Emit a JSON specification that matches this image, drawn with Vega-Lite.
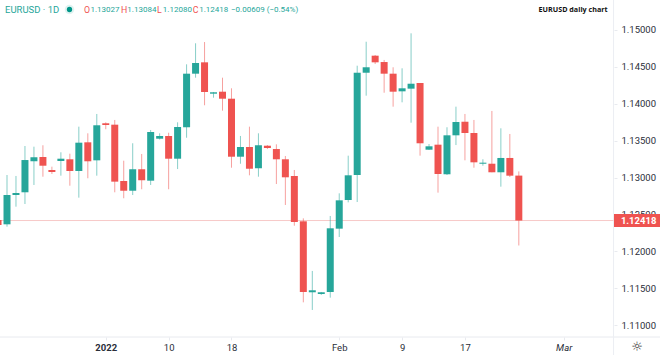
{"$schema":"https://vega.github.io/schema/vega-lite/v6.json","width":614,"height":337,"padding":{"left":0,"top":0,"right":46,"bottom":18},"autosize":"none","background":"white","config":{"view":{"stroke":null},"font":"Roboto"},
"datasets":{"candles":[
{"k":-1,"o":1.12426,"h":1.12426,"l":1.12358,"c":1.12358},
{"k":0,"o":1.12367,"h":1.13035,"l":1.12335,"c":1.12764},
{"k":1,"o":1.12764,"h":1.13022,"l":1.12606,"c":1.12791},
{"k":2,"o":1.12801,"h":1.13428,"l":1.12642,"c":1.13238},
{"k":3,"o":1.13221,"h":1.13419,"l":1.129,"c":1.13275},
{"k":4,"o":1.13279,"h":1.13438,"l":1.13012,"c":1.13161},
{"k":5,"o":1.13103,"h":1.13148,"l":1.13049,"c":1.13076},
{"k":6,"o":1.13225,"h":1.13343,"l":1.13026,"c":1.13256},
{"k":7,"o":1.13248,"h":1.13324,"l":1.1289,"c":1.13089},
{"k":8,"o":1.13089,"h":1.1369,"l":1.12728,"c":1.13473},
{"k":9,"o":1.13478,"h":1.136,"l":1.12991,"c":1.13221},
{"k":10,"o":1.13234,"h":1.13862,"l":1.13026,"c":1.13709},
{"k":11,"o":1.13736,"h":1.13749,"l":1.13655,"c":1.13713},
{"k":12,"o":1.13717,"h":1.13781,"l":1.12801,"c":1.12945},
{"k":13,"o":1.12954,"h":1.13229,"l":1.1272,"c":1.12822},
{"k":14,"o":1.12822,"h":1.13465,"l":1.12764,"c":1.13113},
{"k":15,"o":1.13113,"h":1.1332,"l":1.12842,"c":1.12964},
{"k":16,"o":1.12958,"h":1.13645,"l":1.129,"c":1.13618},
{"k":17,"o":1.13527,"h":1.136,"l":1.13516,"c":1.13564},
{"k":18,"o":1.13564,"h":1.13608,"l":1.12842,"c":1.13256},
{"k":19,"o":1.13256,"h":1.13749,"l":1.13116,"c":1.13686},
{"k":20,"o":1.13682,"h":1.14535,"l":1.1354,"c":1.14408},
{"k":21,"o":1.14408,"h":1.1482,"l":1.14354,"c":1.14553},
{"k":22,"o":1.14562,"h":1.14837,"l":1.1398,"c":1.1416},
{"k":23,"o":1.14137,"h":1.1416,"l":1.14083,"c":1.14156},
{"k":24,"o":1.14164,"h":1.14354,"l":1.13907,"c":1.14069},
{"k":25,"o":1.14069,"h":1.1421,"l":1.13134,"c":1.13283},
{"k":26,"o":1.13283,"h":1.13564,"l":1.13188,"c":1.13415},
{"k":27,"o":1.13415,"h":1.1369,"l":1.13031,"c":1.1312},
{"k":28,"o":1.13126,"h":1.136,"l":1.13012,"c":1.13438},
{"k":29,"o":1.13432,"h":1.13441,"l":1.13387,"c":1.13401},
{"k":30,"o":1.13387,"h":1.13451,"l":1.12913,"c":1.13248},
{"k":31,"o":1.13248,"h":1.13293,"l":1.12629,"c":1.13004},
{"k":32,"o":1.13022,"h":1.13103,"l":1.12348,"c":1.12398},
{"k":33,"o":1.12408,"h":1.12448,"l":1.1131,"c":1.1145},
{"k":34,"o":1.11446,"h":1.11735,"l":1.11206,"c":1.11473},
{"k":35,"o":1.11423,"h":1.1145,"l":1.1141,"c":1.11446},
{"k":36,"o":1.1145,"h":1.1248,"l":1.11373,"c":1.12313},
{"k":37,"o":1.12308,"h":1.12787,"l":1.12195,"c":1.12692},
{"k":38,"o":1.12696,"h":1.13297,"l":1.12665,"c":1.13031},
{"k":39,"o":1.13035,"h":1.14516,"l":1.12669,"c":1.14421},
{"k":40,"o":1.14421,"h":1.14841,"l":1.1411,"c":1.14495},
{"k":41,"o":1.14652,"h":1.14661,"l":1.14539,"c":1.14562},
{"k":42,"o":1.14566,"h":1.14594,"l":1.1415,"c":1.14408},
{"k":43,"o":1.14408,"h":1.14495,"l":1.13961,"c":1.14164},
{"k":44,"o":1.14169,"h":1.14481,"l":1.1402,"c":1.1421},
{"k":45,"o":1.14205,"h":1.14955,"l":1.13744,"c":1.14272},
{"k":46,"o":1.14282,"h":1.14282,"l":1.13297,"c":1.13465},
{"k":47,"o":1.13378,"h":1.13455,"l":1.13374,"c":1.13424},
{"k":48,"o":1.13446,"h":1.1369,"l":1.12796,"c":1.13049},
{"k":49,"o":1.13045,"h":1.13682,"l":1.13035,"c":1.13573},
{"k":50,"o":1.13573,"h":1.13961,"l":1.13441,"c":1.13753},
{"k":51,"o":1.13757,"h":1.13862,"l":1.13234,"c":1.13604},
{"k":52,"o":1.13604,"h":1.13781,"l":1.13134,"c":1.13207},
{"k":53,"o":1.13188,"h":1.13248,"l":1.13161,"c":1.13202},
{"k":54,"o":1.13188,"h":1.13903,"l":1.13072,"c":1.13072},
{"k":55,"o":1.13072,"h":1.13668,"l":1.12877,"c":1.13266},
{"k":56,"o":1.13266,"h":1.13591,"l":1.13008,"c":1.13026},
{"k":57,"o":1.13027,"h":1.13084,"l":1.1208,"c":1.12418}
]},
"layer":[
{"data":{"values":[{"a":-0.78,"b":72.8,"p":1.1084,"q":1.1084}]},"mark":{"type":"rule","color":"#e8eaef","strokeWidth":1},
 "encoding":{"x":{"field":"a","type":"quantitative","scale":{"domain":[-0.78,67.6],"nice":false,"zero":false,"padding":0},
   "axis":{"title":null,"grid":false,"domain":false,"values":[11,18,25,37,44,51,62],"tickSize":3,"tickColor":"#e8eaef","labelPadding":2,"labelFont":"Roboto","labelFontSize":9.5,"labelColor":"#2a2e39","labelFlush":false,"labelOverlap":false,
   "labelFontWeight":{"condition":{"test":"datum.value==11","value":"bold"},"value":"normal"},
   "labelFontStyle":{"condition":{"test":"datum.value==62","value":"italic"},"value":"normal"},
   "labelExpr":"datum.value==11?'2022':datum.value==18?'10':datum.value==25?'18':datum.value==37?'Feb':datum.value==44?'9':datum.value==51?'17':'Mar'"}},
  "x2":{"field":"b"},
  "y":{"field":"p","type":"quantitative","scale":{"domain":[1.1084,1.154065],"nice":false,"zero":false},
   "axis":{"orient":"right","title":null,"grid":false,"domain":false,"values":[1.11,1.115,1.12,1.125,1.13,1.135,1.14,1.145,1.15],"format":".5f","tickSize":3,"tickColor":"#e8eaef","labelPadding":4,"labelFont":"Roboto","labelFontSize":9.5,"labelColor":"#2a2e39"}}}},
{"data":{"values":[{"k":67.55,"p":1.154065,"q":1.10596}]},"mark":{"type":"rule","color":"#eceef3","strokeWidth":1},
 "encoding":{"x":{"field":"k","type":"quantitative"},"y":{"field":"p","type":"quantitative"},"y2":{"field":"q"}}},
{"data":{"values":[{"a":-0.78,"b":67.55,"p":1.12418}]},"mark":{"type":"rule","color":"#f7c9c8","strokeWidth":1},
 "encoding":{"x":{"field":"a","type":"quantitative"},"x2":{"field":"b"},"y":{"field":"p","type":"quantitative"}}},
{"data":{"name":"candles"},"transform":[{"calculate":"datum.c>=datum.o?'up':'down'","as":"d"}],"mark":{"type":"rule","strokeWidth":1,"opacity":0.55,"clip":true},
 "encoding":{"x":{"field":"k","type":"quantitative"},"y":{"field":"l","type":"quantitative"},"y2":{"field":"h"},
 "color":{"field":"d","type":"nominal","legend":null,"scale":{"domain":["up","down"],"range":["#26a69a","#ef5350"]}}}},
{"data":{"name":"candles"},"transform":[{"calculate":"datum.c>=datum.o?'up':'down'","as":"d"}],"mark":{"type":"bar","size":7,"clip":true},
 "encoding":{"x":{"field":"k","type":"quantitative","scale":{"padding":0}},"y":{"field":"o","type":"quantitative"},"y2":{"field":"c"},
 "color":{"field":"d","type":"nominal","legend":null,"scale":{"domain":["up","down"],"range":["#26a69a","#ef5350"]}}}},
{"data":{"values":[{"a":67.6,"b":72.8,"p":1.12507,"q":1.12331}]},"mark":{"type":"rect","color":"#ef5350"},
 "encoding":{"x":{"field":"a","type":"quantitative"},"x2":{"field":"b"},"y":{"field":"p","type":"quantitative"},"y2":{"field":"q"}}},
{"data":{"values":[{"k":68.37,"p":1.12418,"t":"1.12418"}]},"mark":{"type":"text","align":"left","baseline":"middle","font":"Roboto","fontSize":9.5,"fontWeight":"bold","color":"white"},
 "encoding":{"x":{"field":"k","type":"quantitative"},"y":{"field":"p","type":"quantitative"},"text":{"field":"t"}}},
{"data":{"values":[{"k":6.96,"p":1.15278}]},"mark":{"type":"point","filled":true,"size":90,"color":"#26a69a","opacity":0.15},
 "encoding":{"x":{"field":"k","type":"quantitative"},"y":{"field":"p","type":"quantitative"}}},
{"data":{"values":[{"k":6.96,"p":1.15278}]},"mark":{"type":"point","filled":true,"size":28,"color":"#009688","opacity":1},
 "encoding":{"x":{"field":"k","type":"quantitative"},"y":{"field":"p","type":"quantitative"}}},
{"data":{"values":[
 {"k":-0.22,"p":1.15265,"t":"EURUSD · 1D","g":"a"},
 {"k":8.57,"p":1.15265,"t":"O","g":"b"},{"k":9.3,"p":1.15265,"t":"1.13027","g":"c"},
 {"k":12.7,"p":1.15265,"t":"H","g":"b"},{"k":13.4,"p":1.15265,"t":"1.13084","g":"c"},
 {"k":16.7,"p":1.15265,"t":"L","g":"b"},{"k":17.35,"p":1.15265,"t":"1.12080","g":"c"},
 {"k":20.7,"p":1.15265,"t":"C","g":"b"},{"k":21.4,"p":1.15265,"t":"1.12418","g":"c"},
 {"k":24.95,"p":1.15265,"t":"−0.00609 (−0.54%)","g":"c"}
 ]},"mark":{"type":"text","align":"left","baseline":"middle","font":"Roboto"},
 "encoding":{"x":{"field":"k","type":"quantitative"},"y":{"field":"p","type":"quantitative"},"text":{"field":"t"},
  "size":{"field":"g","type":"nominal","legend":null,"scale":{"domain":["a","b","c"],"range":[9.5,8,8]}},
  "color":{"field":"g","type":"nominal","legend":null,"scale":{"domain":["a","b","c"],"range":["#131722","#787b86","#ef5350"]}}}},
{"data":{"values":[{"k":66.9,"p":1.15265,"t":"EURUSD daily chart"}]},"mark":{"type":"text","align":"right","baseline":"middle","font":"Open Sans","fontSize":7.2,"fontWeight":"bold","color":"#111111"},
 "encoding":{"x":{"field":"k","type":"quantitative"},"y":{"field":"p","type":"quantitative"},"text":{"field":"t"}}},
{"data":{"values":[{"k":70.16,"p":1.10705,"t":"☼"}]},"mark":{"type":"text","align":"center","baseline":"middle","font":"DejaVu Sans","fontSize":13,"color":"#333333"},
 "encoding":{"x":{"field":"k","type":"quantitative"},"y":{"field":"p","type":"quantitative"},"text":{"field":"t"}}}
]}
